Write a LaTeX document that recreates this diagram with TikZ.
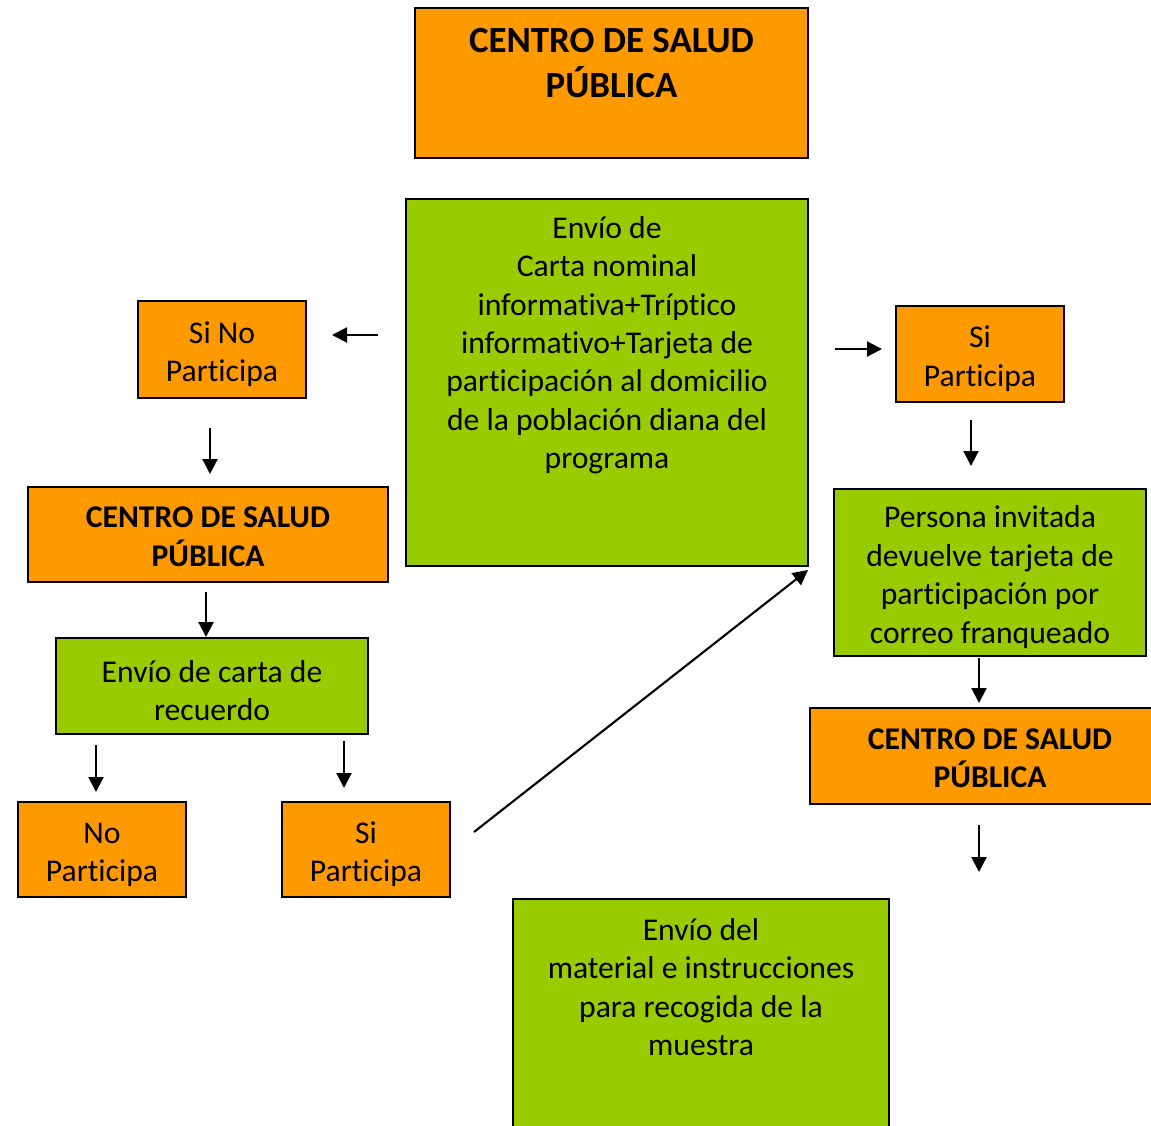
\documentclass[tikz,border=0pt]{standalone}
\usepackage{fontspec}
\setmainfont[Ligatures=NoCommon]{Carlito}
\usetikzlibrary{positioning,arrows.meta}
\definecolor{boxorange}{RGB}{255,153,0}
\definecolor{boxgreen}{RGB}{153,204,0}
\tikzset{
  box/.style  = {rectangle, draw, line width=1.2pt,
                 inner xsep=0.1cm, inner ysep=0pt, align=flush center,
                 text height=0.63cm,
                 font=\fontsize{18}{21.9}\selectfont},
  obox/.style = {box, fill=boxorange},
  gbox/.style = {box, fill=boxgreen},
  head/.style = {obox, text height=0.5cm, font=\fontsize{18}{21.9}\selectfont\bfseries},
  arr/.style  = {-{Triangle[length=0.3cm,width=0.3cm]}, line width=1.2pt}
}

\begin{document}
\begin{tikzpicture}[x=0.02cm, y=-0.02cm]
\useasboundingbox (0,0) rectangle (1151,1125);
\clip (0,0) rectangle (1151,1125);

% --- Kaesten ------------------------------------------------------
\node[head, font=\fontsize{21}{25.6}\selectfont\bfseries, anchor=north,
      text width=7.66cm, text height=0.88cm, text depth=2.12cm]
      (csTop) at (611.5,7) {CENTRO DE SALUD\\PÚBLICA};
\node[gbox, anchor=north, text width=7.84cm, text height=0.78cm, text depth=6.56cm]
      (envio) at (607,198) {Envío de\\Carta nominal\\informativa+Tríptico\\informativo+Tarjeta de\\participación al domicilio\\de la población diana del\\programa};

\node[obox, text width=3.16cm, minimum height=1.94cm] (siNo)    at (222,349.5) {Si No\\Participa};
\node[obox, text width=3.16cm, minimum height=1.92cm] (siPart)  at (980,354)   {Si\\Participa};
\node[head, text width=7.0cm,  minimum height=1.9cm]  (csLeft)  at (208,534.5) {CENTRO DE SALUD\\PÚBLICA};
\node[gbox, text width=6.04cm, minimum height=1.92cm] (recuerdo) at (212,686)  {Envío de carta de\\recuerdo};
\node[obox, text width=3.16cm, minimum height=1.9cm]  (noPart)  at (102,849.5) {No\\Participa};
\node[obox, text width=3.16cm, minimum height=1.9cm]  (siPart2) at (366,849.5) {Si\\Participa};
\node[gbox, text width=6.04cm, minimum height=3.34cm] (persona) at (990,572.5) {Persona invitada\\devuelve tarjeta de\\participación por\\correo franqueado};
\node[head, text width=7.0cm,  minimum height=1.92cm] (csRight) at (990,756)   {CENTRO DE SALUD\\PÚBLICA};
\node[gbox, anchor=north, text width=7.32cm, text height=0.82cm, text depth=4.38cm]
      (material) at (701,898) {Envío del\\material e instrucciones\\para recogida de la\\muestra};

% --- Pfeile -------------------------------------------------------
\coordinate (siNoA)     at (378,335); \coordinate (siNoB)     at (332,335);
\coordinate (siPartA)   at (835,349); \coordinate (siPartB)   at (882,349);
\coordinate (csLeftA)   at (210,428); \coordinate (csLeftB)   at (210,474);
\coordinate (recA)      at (206,592); \coordinate (recB)      at (206,637);
\coordinate (noPartA)   at (96,745);  \coordinate (noPartB)   at (96,792);
\coordinate (siPart2A)  at (344,741); \coordinate (siPart2B)  at (344,788);
\coordinate (backA)     at (474,832); \coordinate (backB)     at (808,570);
\coordinate (personaA)  at (971,420); \coordinate (personaB)  at (971,466);
\coordinate (csRightA)  at (979,658); \coordinate (csRightB)  at (979,703);
\coordinate (matA)      at (979,825); \coordinate (matB)      at (979,872);

\draw[arr] (siNoA) -- (siNoB);
\draw[arr] (siPartA) -- (siPartB);
\draw[arr] (csLeftA) -- (csLeftB);
\draw[arr] (recA) -- (recB);
\draw[arr] (noPartA) -- (noPartB);
\draw[arr] (siPart2A) -- (siPart2B);
\draw[arr] (backA) -- (backB);
\draw[arr] (personaA) -- (personaB);
\draw[arr] (csRightA) -- (csRightB);
\draw[arr] (matA) -- (matB);
\end{tikzpicture}
\end{document}
